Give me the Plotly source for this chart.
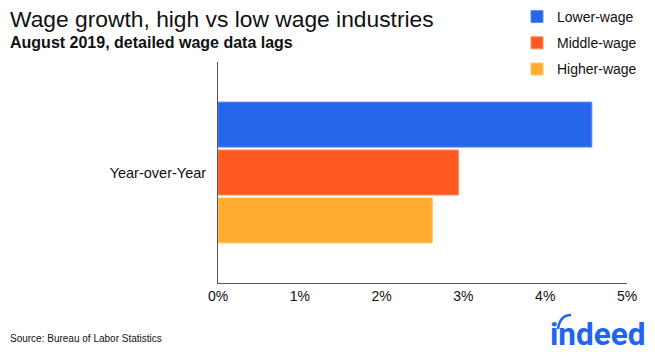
import plotly.graph_objects as go

category = ["Year-over-Year"]
series_names = ["Lower-wage", "Middle-wage", "Higher-wage"]
series_values = [[4.57], [2.94], [2.62]]
colors = ["#2566EA", "#FF5A22", "#FFAC30"]
border_colors = ["#5A8CF0", "#FF8A5E", "#FFC76E"]
x_ticks = [0, 1, 2, 3, 4, 5]
x_tick_labels = ["0%", "1%", "2%", "3%", "4%", "5%"]

FONT = "Liberation Sans, Arial, Helvetica, sans-serif"
OFF = 8  # the page body adds an 8px margin around the figure
PAGE_W, PAGE_H = 655, 357
W, H = PAGE_W - 2 * OFF, PAGE_H - 2 * OFF
# plot area in page pixels: x 218..627, y 62..283
ML = 218 - OFF
MR = W - (627 - OFF)
MT = 62 - OFF
MB = H - (283 - OFF)


def px_to_paper(px, py):
    # px, py are page pixels
    fx, fy = px - OFF, py - OFF
    return (fx - ML) / (W - ML - MR), (H - MB - fy) / (H - MT - MB)


fig = go.Figure()
# Add in reverse so Lower-wage sits on top of the group
for rank, (name, vals, c, bc) in reversed(list(enumerate(zip(series_names, series_values, colors, border_colors)))):
    fig.add_trace(go.Bar(
        y=category, x=vals, name=name, orientation="h",
        marker=dict(color=c, line=dict(color=bc, width=1)),
        legendgroup=name, legendrank=rank + 1,
    ))

lx, ly = px_to_paper(517, 1)

fig.update_layout(
    width=W, height=H,
    margin=dict(l=ML, r=MR, t=MT, b=MB, autoexpand=False),
    plot_bgcolor="white", paper_bgcolor="white",
    barmode="group", bargap=0.35, bargroupgap=0.06,
    font=dict(family=FONT, color="#111", size=14),
    showlegend=True,
    legend=dict(
        xref="paper", yref="paper",
        x=lx, xanchor="left", y=ly, yanchor="top",
        traceorder="grouped", tracegroupgap=5,
        font=dict(size=14, family=FONT, color="#111"),
        itemwidth=30, bgcolor="rgba(0,0,0,0)",
    ),
    xaxis=dict(
        range=[0, 5], tickvals=x_ticks, ticktext=x_tick_labels,
        showgrid=False, zeroline=False, showline=True,
        linecolor="#555", linewidth=1, ticks="",
        tickfont=dict(size=14, family=FONT, color="#111"),
        fixedrange=True,
    ),
    yaxis=dict(
        showgrid=False, zeroline=False, showline=True,
        linecolor="#555", linewidth=1, ticks="", ticklabelstandoff=8,
        tickfont=dict(size=14.5, family=FONT, color="#111"),
    ),
)


def text_px(text, px, py, size, color="#111", xanchor="left", family=FONT):
    x, y = px_to_paper(px, py)
    fig.add_annotation(
        text=text, x=x, y=y, xref="paper", yref="paper",
        xanchor=xanchor, yanchor="middle", showarrow=False,
        font=dict(size=size, color=color, family=family),
    )


text_px("Wage growth, high vs low wage industries", 8, 19, 22.8)
text_px("<b>August 2019, detailed wage data lags</b>", 8, 42, 16)
text_px("Source: Bureau of Labor Statistics", 8, 338, 10)
text_px("<b>indeed</b>", 647, 334, 31.5, color="#2164F3", xanchor="right",
        family="Roboto, Arial, sans-serif")

# arc over the "i" of the logo
x0, y0 = px_to_paper(558, 329)
xc, yc = px_to_paper(560, 315)
x1, y1 = px_to_paper(571, 315)
fig.add_shape(type="path", xref="paper", yref="paper",
              path=f"M {x0} {y0} Q {xc} {yc} {x1} {y1}",
              line=dict(color="#2164F3", width=2.5))

fig.write_html("out.html")
